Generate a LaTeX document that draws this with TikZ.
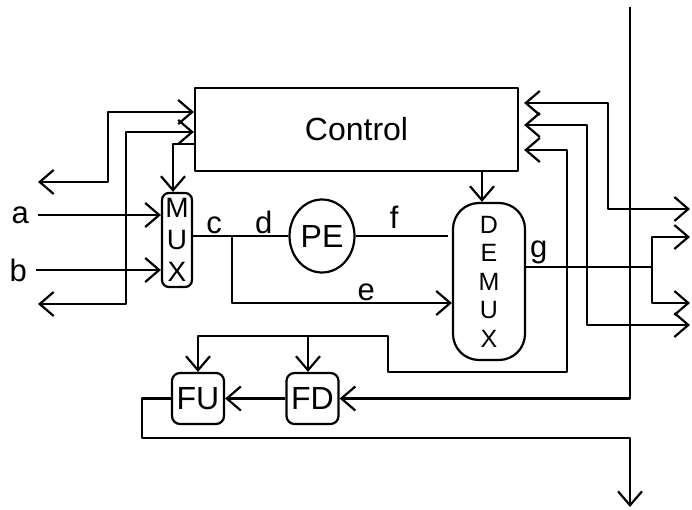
\documentclass[tikz,border=0pt]{standalone}
\usepackage{fontspec}
\setmainfont{Liberation Sans}
\usetikzlibrary{arrows.meta,shapes.geometric}
\begin{document}
\begin{tikzpicture}[x=1pt,y=-1pt,line width=2.2pt,line join=round,
  >={Straight Barb[length=14pt,width=24pt]},
  font=\fontsize{31}{36}\selectfont,
  blk/.style={draw,inner sep=0pt,align=center},
  lbl/.style={anchor=south,inner sep=1.5pt}]
  \useasboundingbox (0,0) rectangle (692,510);
  \node[blk,minimum width=323pt,minimum height=83pt,font=\fontsize{32}{36}\selectfont] (ctrl) at (356.5,129.5) {Control};
  \node[blk,rounded corners=7pt,minimum width=30pt,minimum height=94pt,
    font=\fontsize{28}{32}\selectfont] (mux) at (177,240) {M\\U\\X};
  \node[draw,ellipse,minimum width=65pt,minimum height=73pt,inner sep=0pt,
    font=\fontsize{32}{36}\selectfont] (pe) at (322,236) {PE};
  \node[blk,rounded corners=26pt,minimum width=72pt,minimum height=157pt,
    font=\fontsize{25}{28.5}\selectfont] (demux) at (489,281.5) {D\\E\\M\\U\\X};
  \node[blk,rounded corners=8pt,minimum width=52pt,minimum height=51pt,
    font=\fontsize{32}{36}\selectfont] (fu) at (198,398.5) {FU};
  \node[blk,rounded corners=8pt,minimum width=52pt,minimum height=51pt,
    font=\fontsize{32}{36}\selectfont] (fd) at (312.5,398.5) {FD};
  \node[anchor=east,inner sep=8pt] (la) at (38,215) {a};
  \node[anchor=east,inner sep=8pt] (lb) at (36,270) {b};
  % bends and free ends
  \coordinate (ol1) at (38,182);
  \coordinate (bl1) at (108,112);
  \coordinate (ol2) at (38,304);
  \coordinate (bl2) at (126,132);
  \coordinate (bc) at (173,144);
  \coordinate (bd) at (482,171);
  \coordinate (jc) at (232,236);
  \coordinate (je) at (232,303);
  \coordinate (jg) at (652,267);
  \coordinate (og1) at (690,237);
  \coordinate (og2) at (690,303);
  \coordinate (br1) at (608,103);
  \coordinate (or1) at (690,209);
  \coordinate (br2) at (587,125);
  \coordinate (or2) at (690,325);
  \coordinate (br3) at (567,150);
  \coordinate (bf1) at (388,372);
  \coordinate (bf2) at (388,336);
  \coordinate (bfd) at (308,336);
  \coordinate (top) at (630,7);
  \coordinate (fo1) at (142,438);
  \coordinate (fo2) at (630,507);
  % left side
  \draw[<->] (ol1) -| (bl1) -- (bl1 -| ctrl.west);
  \draw[<->] (ol2) -| (bl2) -- (bl2 -| ctrl.west);
  \draw[->] (bc -| ctrl.west) -- (bc) -- (bc |- mux.north);
  \draw[->] (la) -- (la -| mux.west);
  \draw[->] (lb) -- (lb -| mux.west);
  % data path
  \draw (mux.east |- pe.west) -- node[lbl,pos=0.22] (lc) {c} node[lbl,pos=0.74] (ld) {d} (pe.west);
  \draw[->] (jc) -- (je) -- node[lbl,pos=0.61] (le) {e} (je -| demux.west);
  \draw[shorten >=4pt] (pe.east) -- node[lbl,pos=0.4,yshift=5pt] (lf) {f} (pe.east -| demux.west);
  \draw[->] (bd |- ctrl.south) -- (bd |- demux.north);
  \draw (demux.east |- jg) -- node[lbl,pos=0.1] (lg) {g} (jg);
  \draw[->] (jg) |- (og1);
  \draw[->] (jg) |- (og2);
  % right side
  \draw[<->,shorten <=5pt] (br1 -| ctrl.east) -- (br1) |- (or1);
  \draw[<->,shorten <=5pt] (br2 -| ctrl.east) -- (br2) |- (or2);
  \draw[<->,shorten <=5pt] (br3 -| ctrl.east) -- (br3) |- (bf1) -- (bf2) -| (fu.north);
  \draw[->] (bfd) -- (bfd |- fd.north);
  \draw[->] (top) |- (fd.east);
  \draw[->] (fd.west) -- (fu.east);
  \draw[->] (fu.west) -| (fo1) -| (fo2);
\end{tikzpicture}
\end{document}
